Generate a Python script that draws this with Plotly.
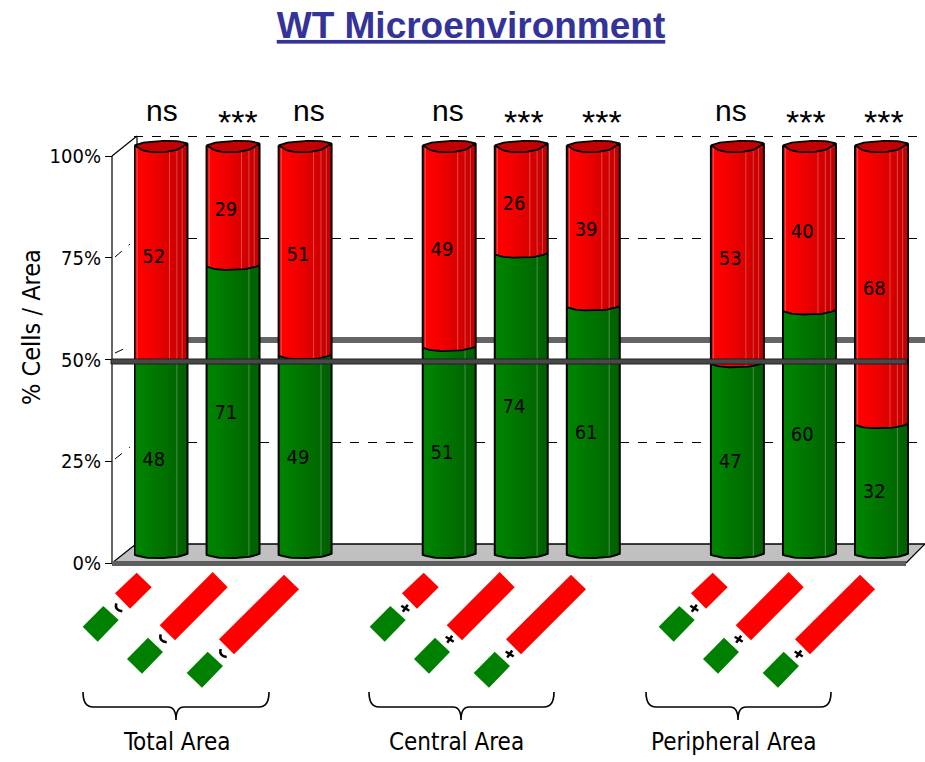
import plotly.graph_objects as go

W, H = 925, 762
NARROW = "DejaVu Sans Condensed, Liberation Sans Narrow, Arial Narrow, sans-serif"
SANS = "Liberation Sans, Arial, sans-serif"

# ---- data ----
slots = [0, 1, 2, 4, 5, 6, 8, 9, 10]
green_values = [48, 71, 49, 51, 74, 61, 47, 60, 32]
red_values = [52, 29, 51, 49, 26, 39, 53, 40, 68]
sig_labels = ["ns", "***", "ns", "ns", "***", "***", "ns", "***", "***"]
sig_shift = [1, 5, 4, -1, 3, 9, -6, -3, 2]
y_ticks = [0, 25, 50, 75, 100]
y_tick_labels = ["0%", "25%", "50%", "75%", "100%"]
group_labels = ["Total Area", "Central Area", "Peripheral Area"]
group_label_px = [177, 456, 734]
bracket_px = [(83, 269, 176), (369, 554, 461), (646, 831, 738)]
group_shift = [0, 287, 576]
RED_SHADES = ["#ff0808", "#ff0000", "#ff0000", "#fd0000", "#fa0000", "#f70000", "#f40000", "#f00000", "#ec0000",
              "#e80000", "#e40000", "#e00000", "#dc0000", "#d80000", "#d40000", "#d00000", "#cc0000", "#c80000",
              "#c40000", "#c80000"]
GREEN_SHADES = ["#008200", "#008000", "#008000", "#008000", "#007e00", "#007c00", "#007a00", "#007800", "#007600",
                "#007400", "#007200", "#007000", "#006e00", "#006c00", "#006a00", "#006800", "#006600", "#006400",
                "#006200", "#006400"]

PX_PER_SLOT = 72.05
BAR_W = 0.735
N = len(RED_SHADES)
X_LEFT_PX = 134


def fx(x):
    return x / W


def fy(y):
    return 1 - y / H


def front(u, a=0.95, t=0.15):
    s = 2 * u - 1
    return a * abs(s) ** 3 + t * s


def cap_front(u):
    return front(u, 1.9, 0.25)


def cap_back(u):
    s = 2 * u - 1
    return 2.7 + (1.9 - 2.7) * abs(s) ** 3 + 0.25 * s


def y_range(y0_px, scale):
    return [(y0_px - H) / scale, y0_px / scale]


fig = go.Figure()

# cylinder bodies: vertical shading bands; each band overlaps the next so no seams show
for i in range(N):
    uc = (i + 0.5) / N
    off = -BAR_W / 2 + i * BAR_W / N
    wid = BAR_W / N * (2 if i < N - 1 else 1)
    bot = [front(uc)] * len(slots)
    mid = [g + front(uc) for g in green_values]
    top = [g + r + cap_front(uc) for g, r in zip(green_values, red_values)]
    fig.add_bar(x=slots, y=[m - b for m, b in zip(mid, bot)], base=bot, width=wid, offset=off,
                marker=dict(color=GREEN_SHADES[i], line_width=0), yaxis="y2", showlegend=False, hoverinfo="skip")
    fig.add_bar(x=slots, y=[t - m for t, m in zip(top, mid)], base=mid, width=wid, offset=off,
                marker=dict(color=RED_SHADES[i], line_width=0), yaxis="y2", showlegend=False, hoverinfo="skip")

# faint facet highlights
for u, seg_kind in [(0.8, "g"), (0.05, "r"), (0.66, "r"), (0.8, "r"), (0.9, "r")]:
    xs, ys = [], []
    for s, g, r in zip(slots, green_values, red_values):
        xs += [s + (u - 0.5) * BAR_W] * 2 + [None]
        if seg_kind == "g":
            ys += [front(u), g + front(u), None]
        else:
            ys += [g + front(u), g + r + cap_front(u), None]
    fig.add_scatter(x=xs, y=ys, mode="lines", yaxis="y2", showlegend=False, hoverinfo="skip",
                    line=dict(color="rgba(255,255,255,0.28)", width=1))

# cylinder caps and outlines
US = [k / 24 for k in range(25)]
for s, g, r in zip(slots, green_values, red_values):
    total = g + r
    xs = [s + (u - 0.5) * BAR_W for u in US]
    fig.add_scatter(x=xs + xs[::-1],
                    y=[total + cap_front(u) for u in US] + [total + cap_back(u) for u in US[::-1]],
                    mode="lines", fill="toself", fillcolor="#c40000", line=dict(color="black", width=1.8),
                    yaxis="y2", showlegend=False, hoverinfo="skip")
    fig.add_scatter(x=xs, y=[g + front(u) for u in US], mode="lines", line=dict(color="black", width=1.8),
                    yaxis="y2", showlegend=False, hoverinfo="skip")
    fig.add_scatter(x=[xs[0]] + xs + [xs[-1]],
                    y=[total + cap_front(0)] + [front(u) for u in US] + [total + cap_front(1)],
                    mode="lines", line=dict(color="black", width=2),
                    yaxis="y2", showlegend=False, hoverinfo="skip")

# value labels
label_x, label_y, label_t = [], [], []
for s, g, r in zip(slots, green_values, red_values):
    label_x += [s - 0.1, s - 0.1]
    label_y += [g / 2, g + r / 2]
    label_t += [str(g), str(r)]
fig.add_scatter(x=label_x, y=label_y, text=label_t, mode="text", yaxis="y2", showlegend=False, hoverinfo="skip",
                textposition="middle center", textfont=dict(family=NARROW, size=20, color="black"))

shapes = []


def poly(points, fill, line=None, width=0, layer="above"):
    path = "M" + " L".join(f"{fx(x):.5f},{fy(y):.5f}" for x, y in points) + " Z"
    shapes.append(dict(type="path", path=path, xref="paper", yref="paper", fillcolor=fill, layer=layer,
                       line=dict(color=line or "rgba(0,0,0,0)", width=width)))


def seg(x0, y0, x1, y1, color="black", width=1, dash="solid", layer="above"):
    shapes.append(dict(type="line", xref="paper", yref="paper", x0=fx(x0), y0=fy(y0), x1=fx(x1), y1=fy(y1),
                       layer=layer, line=dict(color=color, width=width, dash=dash)))


# chart box
poly([(112, 563), (906, 563), (925, 544), (136, 544)], "#c0c0c0", layer="below")
seg(136, 544, 925, 544, layer="below", width=1.5)
seg(906, 563, 925, 544, layer="below", width=1.2)
seg(112, 563, 136, 544, layer="below", width=1.2)
seg(112, 156, 137, 136, layer="below", width=1.2)
seg(112, 156, 112, 563, layer="below", width=1.2)
seg(137, 136, 137, 146, layer="below", width=1.2)
seg(115, 257, 130, 244, dash="dash", layer="below")
seg(115, 459, 130, 447, dash="dash", layer="below")
seg(115, 353, 130, 346, dash="dash", layer="below")
poly([(137, 337), (925, 337), (925, 343), (137, 343)], "#646464", layer="below")
poly([(111, 359), (906, 359), (906, 364), (111, 364)], "#484848", line="#202020", width=1)
poly([(112, 561), (906, 561), (906, 566), (112, 566)], "#5e5e5e")

# schematic icons
icon_parts = [
    ([(103.3, 606), (118.7, 620), (97.7, 641.7), (82.7, 626.7)],
     [(136.7, 572.7), (151.7, 587.3), (130, 608.7), (115, 593.3)], (118.3, 608.3)),
    ([(148, 637.7), (163, 652), (142, 673.7), (127, 659)],
     [(212.7, 572), (227.7, 587.3), (175, 640.3), (159.7, 625.3)], (162.7, 639.3)),
    ([(207.7, 651.7), (223, 666), (202, 687.7), (186.7, 673)],
     [(284, 574.7), (299, 589.3), (234, 654.3), (219, 639.3)], (222.7, 654)),
]
for gi, dx in enumerate(group_shift):
    for gp, rp, (mx, my) in icon_parts:
        poly([(x + dx, y) for x, y in gp], "#008000")
        poly([(x + dx, y) for x, y in rp], "#ff0000")
        if gi == 0:
            shapes.append(dict(type="path", xref="paper", yref="paper", line=dict(color="black", width=2.5),
                               path=f"M{fx(mx + 4):.5f},{fy(my + 3):.5f} "
                                    f"Q{fx(mx - 4):.5f},{fy(my + 2):.5f} {fx(mx - 2):.5f},{fy(my - 5):.5f}"))
        else:
            seg(mx + dx - 4, my - 2.5, mx + dx + 4, my + 2.5, width=2.5)
            seg(mx + dx - 2.5, my + 3.5, mx + dx + 2.5, my - 3.5, width=2.5)

# brackets
for x0, x1, xc in bracket_px:
    p = (f"M{fx(x0):.5f},{fy(692):.5f} Q{fx(x0):.5f},{fy(707):.5f} {fx(x0 + 10):.5f},{fy(707):.5f} "
         f"L{fx(xc - 8):.5f},{fy(707):.5f} Q{fx(xc):.5f},{fy(707):.5f} {fx(xc):.5f},{fy(720):.5f} "
         f"Q{fx(xc):.5f},{fy(707):.5f} {fx(xc + 8):.5f},{fy(707):.5f} "
         f"L{fx(x1 - 10):.5f},{fy(707):.5f} Q{fx(x1):.5f},{fy(707):.5f} {fx(x1):.5f},{fy(692):.5f}")
    shapes.append(dict(type="path", path=p, xref="paper", yref="paper", line=dict(color="black", width=1.6)))

annotations = []
for s, lab, sh in zip(slots, sig_labels, sig_shift):
    is_ns = lab == "ns"
    annotations.append(dict(x=s, xref="x", y=fy(111 if is_ns else 122), yref="paper", text=lab, showarrow=False,
                            xshift=sh, xanchor="center", yanchor="middle",
                            font=dict(family=SANS, size=30 if is_ns else 34, color="black")))
for lab, xp in zip(group_labels, group_label_px):
    annotations.append(dict(x=fx(xp), xref="paper", y=fy(742), yref="paper", text=lab, showarrow=False,
                            xanchor="center", yanchor="middle", font=dict(family=NARROW, size=24, color="black")))
annotations.append(dict(x=fx(31), xref="paper", y=fy(327), yref="paper", text="% Cells / Area", showarrow=False,
                        textangle=-90, xanchor="center", yanchor="middle",
                        font=dict(family=NARROW, size=25, color="black")))

fig.update_layout(
    width=W, height=H, margin=dict(l=0, r=0, t=0, b=0), paper_bgcolor="white", plot_bgcolor="rgba(0,0,0,0)",
    barmode="overlay", showlegend=False, shapes=shapes, annotations=annotations,
    title=dict(text="<b>WT Microenvironment</b>", x=471 / W, xanchor="center", y=fy(25), yanchor="middle",
               font=dict(family=SANS, size=37, color="#333399", lineposition="under")),
    xaxis=dict(domain=[X_LEFT_PX / W, 1], range=[(X_LEFT_PX - 161) / PX_PER_SLOT, (925 - 161) / PX_PER_SLOT],
               visible=False, fixedrange=True),
    yaxis=dict(range=y_range(544, 4.08), tickvals=[25, 75, 100], showticklabels=False, ticks="", showline=False,
               zeroline=False, showgrid=True, gridcolor="black", griddash="dash", gridwidth=1, fixedrange=True),
    yaxis2=dict(range=y_range(558, 4.06), overlaying="y", visible=False, fixedrange=True),
    yaxis3=dict(range=y_range(563, 4.07), overlaying="y", anchor="free", position=112 / W, side="left",
                tickvals=y_ticks, ticktext=y_tick_labels, ticks="outside", ticklen=7, tickcolor="black",
                showgrid=False, zeroline=False, showline=False,
                tickfont=dict(family=NARROW, size=20, color="black"), fixedrange=True),
)
fig.add_scatter(x=[None], y=[None], yaxis="y3", showlegend=False, hoverinfo="skip")
fig.add_scatter(x=[None], y=[None], yaxis="y", showlegend=False, hoverinfo="skip")
fig.write_html("out.html", config=dict(displayModeBar=False),
               post_script="document.body.style.margin='0';document.documentElement.style.overflow='hidden';")
